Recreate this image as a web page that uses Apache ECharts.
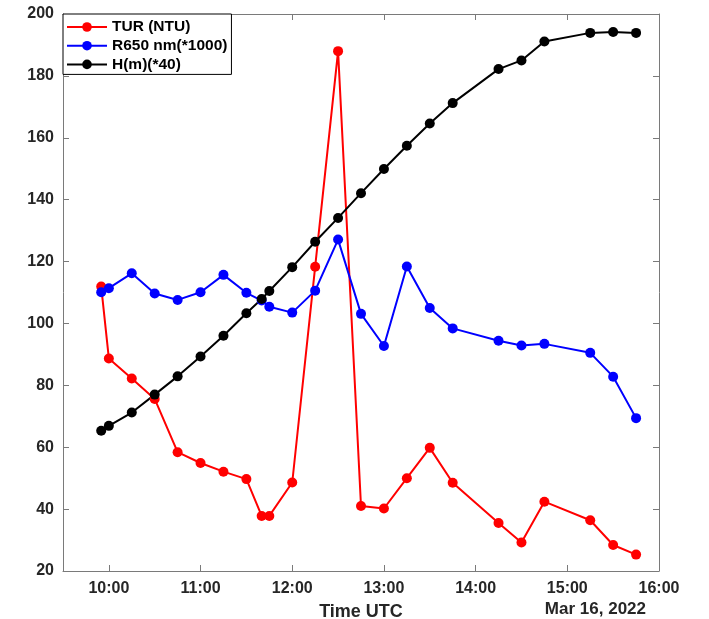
<!DOCTYPE html>
<html>
<head>
<meta charset="utf-8">
<script src="https://cdn.jsdelivr.net/npm/echarts@6/dist/echarts.min.js"></script>
<style>html,body{margin:0;padding:0;background:#fff}#c{width:709px;height:619px}</style>
</head>
<body>
<div id="c"></div>
<script>
var times = ['09:55','10:00','10:15','10:30','10:45','11:00','11:15','11:30','11:40','11:45','12:00','12:15','12:30','12:45','13:00','13:15','13:30','13:45','14:15','14:30','14:45','15:15','15:30','15:45'];
var tur  = [111.9, 88.7, 82.2, 75.6, 58.4, 54.9, 52.1, 49.7, 37.8, 37.8, 48.6, 118.3, 188.0, 41.0, 40.2, 50.0, 59.8, 48.5, 35.5, 29.2, 42.4, 36.4, 28.4, 25.3];
var r650 = [110.1, 111.4, 116.2, 109.7, 107.6, 110.1, 115.7, 109.9, 107.4, 105.4, 103.5, 110.6, 127.1, 103.1, 92.7, 118.4, 105.0, 98.4, 94.4, 92.9, 93.4, 90.5, 82.8, 69.4];
var hgt  = [65.3, 66.9, 71.2, 77.0, 82.9, 89.3, 96.0, 103.3, 107.9, 110.5, 118.2, 126.4, 134.1, 142.1, 149.9, 157.4, 164.6, 171.2, 182.2, 185.0, 191.1, 193.9, 194.2, 193.9];
var xTicks = ['10:00','11:00','12:00','13:00','14:00','15:00','16:00'];
var yTicks = [20, 40, 60, 80, 100, 120, 140, 160, 180, 200];
var seriesNames = ['TUR (NTU)', 'R650 nm(*1000)', 'H(m)(*40)'];
var dateLabel = 'Mar 16, 2022';
var xTitle = 'Time UTC';

function toH(s){ var p = s.split(':'); return +p[0] + (+p[1])/60; }
function pairs(vals){ return times.map(function(t,i){ return [toH(t), vals[i]]; }); }
var xTickVals = xTicks.map(toH);

var font = '"Liberation Sans", Arial, sans-serif';
var axisColor = '#7a7a7a';
var txtColor = '#262626';

var chart = echarts.init(document.getElementById('c'), null, {renderer:'canvas'});
function mkSeries(name, vals, color){
  return {
    name: name, type: 'line', data: pairs(vals),
    symbol: 'circle', symbolSize: 10, showSymbol: true,
    lineStyle: {color: color, width: 2},
    itemStyle: {color: color},
    emphasis: {disabled: true},
    animation: false
  };
}
chart.setOption({
  animation: false,
  grid: {left: 63, right: 50, top: 14, bottom: 48, containLabel: false, outerBoundsMode: 'none'},
  legend: {
    data: seriesNames,
    orient: 'vertical', left: 63, top: 14,
    itemWidth: 40, itemHeight: 12, itemGap: 2.7,
    padding: [5, 4, 2, 3],
    borderColor: '#000', borderWidth: 1, backgroundColor: '#fff',
    textStyle: {fontFamily: font, fontWeight: 'bold', fontSize: 15.5, color: '#000', lineHeight: 16},
    selectedMode: false
  },
  xAxis: [{
    type: 'value', min: 9.5, max: 16,
    name: xTitle, nameLocation: 'middle', nameGap: 32,
    nameTextStyle: {fontFamily: font, fontWeight: 'bold', fontSize: 18, color: txtColor},
    axisLine: {lineStyle: {color: axisColor, width: 1}},
    axisTick: {inside: true, length: 6, customValues: xTickVals, lineStyle: {color: axisColor}},
    axisLabel: {customValues: xTickVals, margin: 10, fontFamily: font, fontWeight: 'bold', fontSize: 16, color: txtColor,
      formatter: function(v){ var h = Math.round(v); return (h<10?'0':'')+h+':00'; }},
    splitLine: {show: false}
  },{
    type: 'value', min: 9.5, max: 16, position: 'top',
    axisLine: {lineStyle: {color: axisColor, width: 1}},
    axisTick: {inside: true, length: 6, customValues: xTickVals, lineStyle: {color: axisColor}},
    axisLabel: {show: false}, splitLine: {show: false}
  }],
  yAxis: [{
    type: 'value', min: 20, max: 200, interval: 20,
    axisLine: {show: true, lineStyle: {color: axisColor, width: 1}},
    axisTick: {show: true, inside: true, length: 6, lineStyle: {color: axisColor}},
    axisLabel: {margin: 9, fontFamily: font, fontWeight: 'bold', fontSize: 16, color: txtColor},
    splitLine: {show: false}
  },{
    type: 'value', min: 20, max: 200, interval: 20, position: 'right',
    axisLine: {show: true, lineStyle: {color: axisColor, width: 1}},
    axisTick: {show: true, inside: true, length: 6, lineStyle: {color: axisColor}},
    axisLabel: {show: false}, splitLine: {show: false}
  }],
  graphic: [{
    type: 'text', right: 709 - 646, top: 601,
    style: {text: dateLabel, fontFamily: font, fontWeight: 'bold', fontSize: 17, fill: txtColor}
  }],
  series: [
    mkSeries(seriesNames[0], tur, '#ff0000'),
    mkSeries(seriesNames[1], r650, '#0000ff'),
    mkSeries(seriesNames[2], hgt, '#000000')
  ]
});
</script>
</body>
</html>
